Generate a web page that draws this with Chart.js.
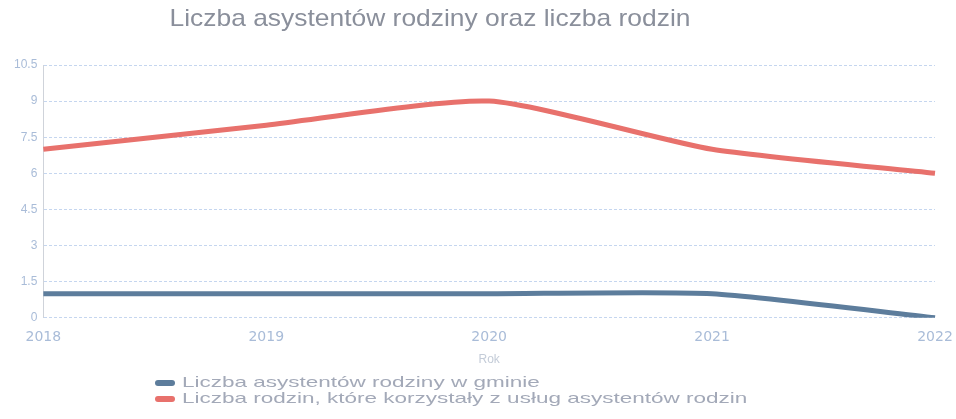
<!DOCTYPE html>
<html><head><meta charset="utf-8">
<script src="https://cdn.jsdelivr.net/npm/chart.js@4/dist/chart.umd.min.js"></script>
<style>html,body{margin:0;padding:0;background:#fff}#wrap{width:956px;height:419px}</style>
</head><body><div id="wrap"><canvas id="c" width="956" height="419"></canvas></div>
<script>
const titleText = "Liczba asystentów rodziny oraz liczba rodzin";
const years = ["2018", "2019", "2020", "2021", "2022"];
const assistants = [1, 1, 1, 1, 0];
const families = [7, 8, 9, 7, 6];
const seriesNames = ["Liczba asystentów rodziny w gminie", "Liczba rodzin, które korzystały z usług asystentów rodzin"];
const xTitle = "Rok";

function stretchedText(ctx, text, x, y, sx, align) {
  ctx.save();
  const w = ctx.measureText(text).width * sx;
  let left = x;
  if (align === 'center') left = x - w / 2;
  ctx.translate(left, y);
  ctx.scale(sx, 1);
  ctx.textAlign = 'left';
  ctx.fillText(text, 0, 0);
  ctx.restore();
}

const extras = {
  id: 'extras',
  afterDraw(chart) {
    const ctx = chart.ctx;
    ctx.save();
    ctx.font = '24px "Liberation Sans", Arial, sans-serif';
    ctx.fillStyle = '#8a8f9b';
    ctx.textBaseline = 'middle';
    stretchedText(ctx, titleText, 430, 19, 1.1, 'center');
    ctx.font = '15px "Liberation Sans", Arial, sans-serif';
    chart.data.datasets.forEach((ds, i) => {
      const y = 383 + i * 16;
      ctx.fillStyle = ds.borderColor;
      ctx.beginPath();
      ctx.roundRect(155, y - 3, 20, 6, 3);
      ctx.fill();
      ctx.fillStyle = '#a3a9b8';
      stretchedText(ctx, ds.label, 182, y, 1.5, 'left');
    });
    ctx.restore();
  }
};

new Chart(document.getElementById('c'), {
  type: 'line',
  data: {
    labels: years,
    datasets: [
      { label: seriesNames[0], data: assistants, borderColor: '#5d7d9c', backgroundColor: '#5d7d9c', borderWidth: 5, pointRadius: 0, tension: 0.2 },
      { label: seriesNames[1], data: families, borderColor: '#e8716c', backgroundColor: '#e8716c', borderWidth: 5, pointRadius: 0, tension: 0.2 }
    ]
  },
  plugins: [extras],
  options: {
    responsive: false,
    animation: false,
    layout: { padding: { top: 65, left: 8, right: 21, bottom: 48 } },
    plugins: { legend: { display: false }, title: { display: false }, tooltip: { enabled: false } },
    scales: {
      x: {
        offset: false,
        grid: { display: false },
        border: { display: false },
        ticks: { color: '#a9bcd8', font: { size: 14, family: '"DejaVu Sans", sans-serif' }, maxRotation: 0, padding: 3 },
        title: { display: true, text: xTitle, color: '#c4ccd8', font: { size: 12 }, padding: { top: 4 } }
      },
      y: {
        min: 0, max: 10.5,
        ticks: { stepSize: 1.5, color: '#a9bcd8', font: { size: 12, family: '"Liberation Sans", Arial, sans-serif' }, padding: 6 },
        grid: { color: 'rgba(150,180,225,0.55)', drawTicks: false },
        border: { display: true, color: '#cfd3da', dash: [3, 2] }
      }
    }
  }
});
</script></body></html>
